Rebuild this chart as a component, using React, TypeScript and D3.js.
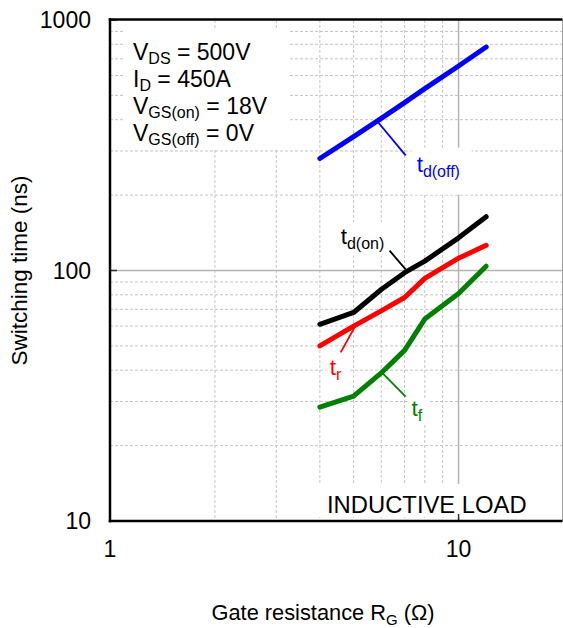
import React from "react";
import * as d3 from "d3";

const rg = [4, 5, 6, 7, 8, 10, 12];
const tdOff = [280, 342, 405, 468, 532, 655, 780];
const tdOn = [61, 68, 84, 98, 109, 135, 164];
const tr = [50, 60, 69, 78, 93, 112, 126];
const tf = [28.5, 31.5, 39, 48, 64, 81, 104];

const xTicks = [1, 10];
const yTicks = [10, 100, 1000];
const xMinor = [2, 3, 4, 5, 6, 7, 8, 9];
const yMinor = [20, 30, 40, 50, 60, 70, 80, 90, 200, 300, 400, 500, 600, 700, 800, 900];

const conditions = [
  { main: "V", sub: "DS", rest: " = 500V" },
  { main: "I", sub: "D", rest: " = 450A" },
  { main: "V", sub: "GS(on)", rest: " = 18V" },
  { main: "V", sub: "GS(off)", rest: " = 0V" },
];

// series with annotation anchors in data units: leader from (x1,y1) to (x2,y2), label at (lx,ly)
const series = [
  { name: "td(off)", sub: "d(off)", values: tdOff, color: "#0000ff", leader: [5.82, 397, 7.05, 288], label: [7.58, 248] },
  { name: "td(on)", sub: "d(on)", values: tdOn, color: "#000000", leader: [6.34, 120, 7.05, 101], label: [4.59, 127] },
  { name: "tr", sub: "r", values: tr, color: "#ff0000", leader: [5.1, 61.4, 4.59, 47.1], label: [4.27, 38.1] },
  { name: "tf", sub: "f", values: tf, color: "#008000", leader: [6.02, 39.2, 7.05, 31.4], label: [7.33, 26.2] },
];

const FONT = "'Liberation Sans', Arial, Helvetica, sans-serif";

export default function App() {
  const W = 563, H = 628;
  const L = 110, T = 20, R = 562.5, B = 521;
  const x = d3.scaleLog().domain([1, 20]).range([L, 563.5]);
  const y = d3.scaleLog().domain([10, 1000]).range([B, T]);
  const line = d3.line<number>().x((_, i) => x(rg[i])).y((d) => y(d));

  return (
    <svg width={W} height={H} style={{ position: "absolute", left: 0, top: 0, background: "#fff" }} fontFamily={FONT}>
      <rect x={0} y={0} width={W} height={H} fill="#fff" />
      {/* minor grid */}
      {xMinor.map((v) => (
        <line key={"xm" + v} x1={x(v)} x2={x(v)} y1={T} y2={B} stroke="#c4c4c4" strokeWidth={1} strokeDasharray="3,2" />
      ))}
      {yMinor.map((v) => (
        <line key={"ym" + v} x1={L} x2={R} y1={y(v)} y2={y(v)} stroke="#c4c4c4" strokeWidth={1} strokeDasharray="3,2" />
      ))}
      {/* major grid */}
      <line x1={x(10)} x2={x(10)} y1={T} y2={B} stroke="#b4b4b4" strokeWidth={1.5} />
      <line x1={L} x2={R} y1={y(100)} y2={y(100)} stroke="#b4b4b4" strokeWidth={1.5} />

      {/* white text boxes */}
      <rect x={125} y={30} width={165} height={120} fill="#fff" />
      <rect x={310} y={484} width={235} height={33} fill="#fff" />
      <rect x={x(series[0].label[0]) - 5} y={y(series[0].label[1]) - 24} width={60} height={47} fill="#fff" />
      <rect x={x(series[1].label[0]) - 6} y={y(series[1].label[1]) - 22} width={54} height={33} fill="#fff" />
      <rect x={x(series[2].label[0]) - 4} y={y(series[2].label[1]) - 16} width={22} height={24} fill="#fff" />
      <rect x={x(series[3].label[0]) - 4} y={y(series[3].label[1]) - 16} width={22} height={24} fill="#fff" />

      {/* series */}
      {series.map((s) => (
        <path key={s.name} d={line(s.values) || ""} fill="none" stroke={s.color} strokeWidth={5} strokeLinejoin="round" strokeLinecap="round" />
      ))}
      {/* leaders and labels */}
      {series.map((s) => (
        <g key={"lab" + s.name}>
          <line x1={x(s.leader[0])} y1={y(s.leader[1])} x2={x(s.leader[2])} y2={y(s.leader[3])} stroke={s.color} strokeWidth={1.8} />
          <text x={x(s.label[0])} y={y(s.label[1])} fill={s.color} fontSize={22.5}>
            t<tspan fontSize={16} dy={5}>{s.sub}</tspan>
          </text>
        </g>
      ))}

      {/* conditions */}
      {conditions.map((c, i) => (
        <text key={"c" + i} x={133} y={59.5 + i * 27} fontSize={23} fill="#000">
          {c.main}
          <tspan fontSize={16} dy={4}>{c.sub}</tspan>
          <tspan dy={-4}>{c.rest}</tspan>
        </text>
      ))}
      <text x={327} y={513} fontSize={23.8} fill="#000">INDUCTIVE LOAD</text>

      {/* ticks */}
      {yTicks.map((v) => (
        <g key={"yt" + v}>
          <line x1={L} x2={L + 7} y1={y(v)} y2={y(v)} stroke="#333" strokeWidth={1.5} />
          <text x={91} y={y(v) + 8} textAnchor="end" fontSize={23}>{v}</text>
        </g>
      ))}
      {xTicks.map((v) => (
        <g key={"xt" + v}>
          <line x1={x(v)} x2={x(v)} y1={B} y2={B - 7} stroke="#333" strokeWidth={1.5} />
          <text x={x(v)} y={557} textAnchor="middle" fontSize={23}>{v}</text>
        </g>
      ))}

      {/* frame */}
      <line x1={R} x2={R} y1={T} y2={B} stroke="#a0a0a0" strokeWidth={1} />
      <line x1={L - 1.25} x2={R} y1={T - 0.5} y2={T - 0.5} stroke="#000" strokeWidth={2.5} />
      <line x1={L} x2={L} y1={T - 1.75} y2={B + 1.25} stroke="#000" strokeWidth={2.5} />
      <line x1={L - 1.25} x2={R} y1={B} y2={B} stroke="#000" strokeWidth={2.5} />

      {/* axis titles */}
      <text x={323} y={620} textAnchor="middle" fontSize={21.8}>
        Gate resistance R<tspan fontSize={15} dy={5}>G</tspan>
        <tspan dy={-5}> (Ω)</tspan>
      </text>
      <text transform={`translate(27,${(T + B) / 2}) rotate(-90)`} textAnchor="middle" fontSize={22.5}>
        Switching time (ns)
      </text>
    </svg>
  );
}
